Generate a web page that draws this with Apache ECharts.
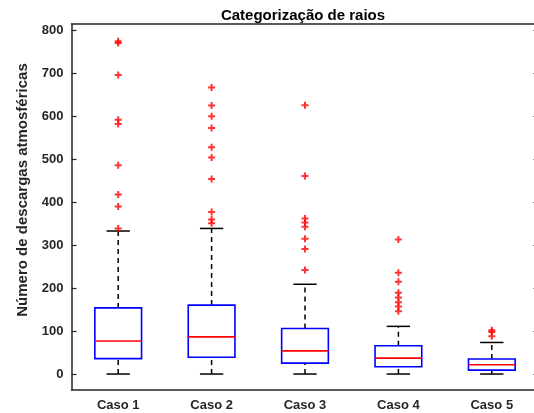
<!DOCTYPE html>
<html>
<head>
<meta charset="utf-8">
<script src="https://cdn.jsdelivr.net/npm/echarts@6/dist/echarts.min.js"></script>
<style>
  html, body { margin: 0; padding: 0; background: #fff; }
  #chart { width: 534px; height: 413px; }
</style>
</head>
<body>
<div id="chart"></div>
<script>
// Lightning-count distributions per case (box-and-whisker summary)
const categories = ['Caso 1', 'Caso 2', 'Caso 3', 'Caso 4', 'Caso 5'];
const whiskerLow = [0, 0, 0, 0, 0];
const quartile1 = [36, 39, 25.5, 17, 9];
const medians = [77, 86.5, 54, 37, 21.5];
const quartile3 = [154, 160.5, 106, 66, 35];
const whiskerHigh = [333, 339, 209, 111, 73.5];

const outliersCaso1 = [775, 771, 696, 592, 582, 486, 418, 390, 339];
const outliersCaso2 = [667, 625, 600, 573, 528, 504, 454, 377, 360, 351];
const outliersCaso3 = [626, 461, 362, 353, 343, 315, 291, 242];
const outliersCaso4 = [313, 236, 215, 189, 178, 167, 157, 146];
const outliersCaso5 = [102, 98, 88];

const yTicks = [0, 100, 200, 300, 400, 500, 600, 700, 800];

const outlierGroups = [outliersCaso1, outliersCaso2, outliersCaso3, outliersCaso4, outliersCaso5];
const boxData = categories.map((c, i) => [i, whiskerLow[i], quartile1[i], medians[i], quartile3[i], whiskerHigh[i]]);
const outlierData = [];
outlierGroups.forEach((g, i) => g.forEach(v => outlierData.push([i, v])));

const AXIS_COLOR = '#262626';
const FONT = 'Liberation Sans, Arial, Helvetica, sans-serif';

function renderBox(params, api) {
  const x = api.value(0);
  const pMin = api.coord([x, api.value(1)]);
  const pQ1 = api.coord([x, api.value(2)]);
  const pMed = api.coord([x, api.value(3)]);
  const pQ3 = api.coord([x, api.value(4)]);
  const pMax = api.coord([x, api.value(5)]);
  const band = api.size([1, 0])[0];
  const halfBox = band * 0.25;
  const halfCap = band * 0.125;
  const cx = pMed[0];
  const dashed = { stroke: '#000', lineWidth: 1.5, lineDash: [5, 4], fill: null };
  const solid = { stroke: '#000', lineWidth: 1.5, fill: null };
  return {
    type: 'group',
    children: [
      { type: 'line', shape: { x1: cx, y1: pQ3[1], x2: cx, y2: pMax[1] }, style: dashed },
      { type: 'line', shape: { x1: cx, y1: pMin[1], x2: cx, y2: pQ1[1] }, style: dashed },
      { type: 'line', shape: { x1: cx - halfCap, y1: pMax[1], x2: cx + halfCap, y2: pMax[1] }, style: solid },
      { type: 'line', shape: { x1: cx - halfCap, y1: pMin[1], x2: cx + halfCap, y2: pMin[1] }, style: solid },
      { type: 'rect', shape: { x: cx - halfBox, y: pQ3[1], width: halfBox * 2, height: pQ1[1] - pQ3[1] },
        style: { stroke: '#0000ff', lineWidth: 1.6, fill: null } },
      { type: 'line', shape: { x1: cx - halfBox, y1: pMed[1], x2: cx + halfBox, y2: pMed[1] },
        style: { stroke: '#ff0000', lineWidth: 1.6 } }
    ]
  };
}

const chart = echarts.init(document.getElementById('chart'), null, { renderer: 'canvas' });

// The plot frame runs slightly past the right edge of the canvas
const gridBox = { left: 71.5, top: 24, width: 467, height: 365.5 };

chart.setOption({
  animation: false,
  backgroundColor: '#ffffff',
  title: {
    text: 'Categorização de raios',
    left: 298,
    top: 3,
    textAlign: 'center',
    textStyle: { fontFamily: FONT, fontWeight: 'bold', fontSize: 15, color: '#000' }
  },
  graphic: [{
    type: 'text',
    x: 23,
    y: 190,
    rotation: Math.PI / 2,
    style: {
      text: 'Número de descargas atmosféricas',
      fontFamily: FONT,
      fontWeight: 'bold',
      fontSize: 15,
      fill: AXIS_COLOR,
      align: 'center',
      verticalAlign: 'middle'
    }
  }],
  grid: Object.assign({ containLabel: false, outerBoundsMode: 'none' }, gridBox),
  xAxis: [{
    type: 'category',
    data: categories,
    boundaryGap: true,
    axisLine: { onZero: false, lineStyle: { color: AXIS_COLOR, width: 1.5 } },
    axisTick: { inside: true, alignWithLabel: true, length: 5, lineStyle: { color: AXIS_COLOR, width: 1.2 } },
    axisLabel: { margin: 9, color: AXIS_COLOR, fontFamily: FONT, fontWeight: 'bold', fontSize: 13 },
    splitLine: { show: false }
  }, {
    type: 'category',
    position: 'top',
    data: categories,
    boundaryGap: true,
    axisLine: { onZero: false, lineStyle: { color: AXIS_COLOR, width: 1.5 } },
    axisTick: { inside: true, alignWithLabel: true, length: 5, lineStyle: { color: AXIS_COLOR, width: 1.2 } },
    axisLabel: { show: false },
    splitLine: { show: false }
  }],
  yAxis: [{
    type: 'value',
    min: -36,
    max: 815,
    axisLine: { show: true, onZero: false, lineStyle: { color: AXIS_COLOR, width: 1.5 } },
    axisTick: { show: true, inside: true, length: 5, customValues: yTicks, lineStyle: { color: AXIS_COLOR, width: 1.2 } },
    axisLabel: { margin: 8, customValues: yTicks, color: AXIS_COLOR, fontFamily: FONT, fontWeight: 'bold', fontSize: 13 },
    splitLine: { show: false }
  }, {
    type: 'value',
    position: 'right',
    min: -36,
    max: 815,
    axisLine: { show: true, onZero: false, lineStyle: { color: AXIS_COLOR, width: 1.5 } },
    axisTick: { show: true, inside: true, length: 5, customValues: yTicks, lineStyle: { color: AXIS_COLOR, width: 1.2 } },
    axisLabel: { show: false },
    splitLine: { show: false }
  }],
  series: [{
    type: 'custom',
    name: 'caixas',
    renderItem: renderBox,
    encode: { x: 0, y: [1, 2, 3, 4, 5] },
    data: boxData,
    z: 2
  }, {
    type: 'scatter',
    name: 'valores atípicos',
    data: outlierData,
    symbol: 'path://M-1,-3.5H1V-1H3.5V1H1V3.5H-1V1H-3.5V-1H-1Z',
    symbolSize: 7,
    itemStyle: { color: '#ff0000' },
    z: 3
  }]
});
</script>
</body>
</html>
